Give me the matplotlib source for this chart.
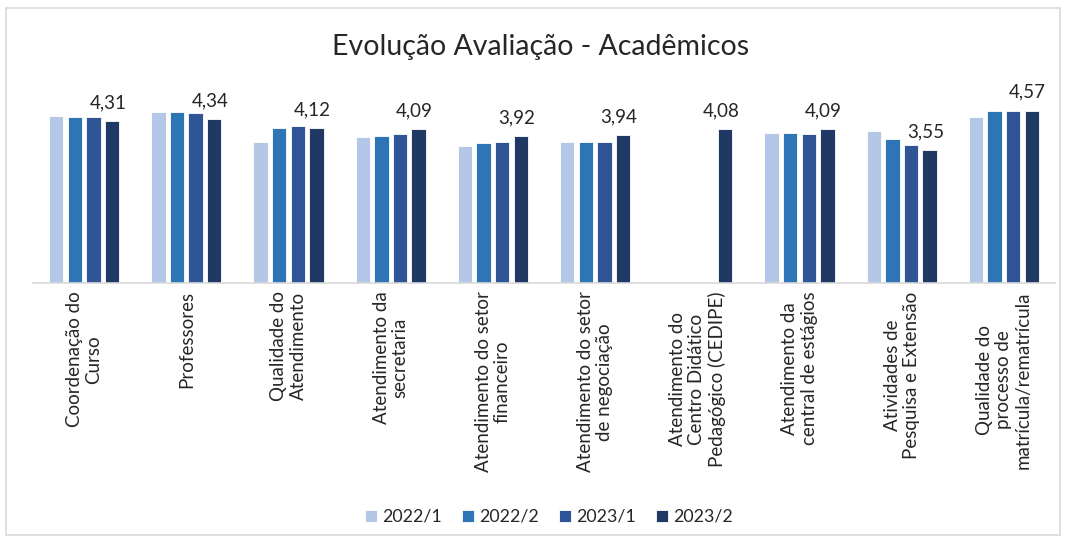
import numpy as np
import matplotlib.pyplot as plt
from matplotlib.patches import Rectangle

categories = [
    "Coordenação do\nCurso",
    "Professores",
    "Qualidade do\nAtendimento",
    "Atendimento da\nsecretaria",
    "Atendimento do setor\nfinanceiro",
    "Atendimento do setor\nde negociação",
    "Atendimento do\nCentro Didático\nPedagógico (CEDIPE)",
    "Atendimento da\ncentral de estágios",
    "Atividades de\nPesquisa e Extensão",
    "Qualidade do\nprocesso de\nmatrícula/rematrícula",
]
series_names = ["2022/1", "2022/2", "2023/1", "2023/2"]
s2022_1 = [4.44, 4.54, 3.75, 3.89, 3.66, 3.75, np.nan, 4.00, 4.03, 4.40]
s2022_2 = [4.40, 4.54, 4.12, 3.92, 3.72, 3.75, np.nan, 4.00, 3.83, 4.57]
s2023_1 = [4.40, 4.52, 4.18, 3.96, 3.75, 3.75, np.nan, 3.95, 3.69, 4.57]
s2023_2 = [4.31, 4.34, 4.12, 4.09, 3.92, 3.94, 4.08, 4.09, 3.55, 4.57]
colors = ["#B4C7E7", "#2E75B6", "#2F5597", "#203864"]

plt.rcParams['font.family'] = ['Lato', 'DejaVu Sans']

fig = plt.figure(figsize=(10.68, 5.43), dpi=100)
# chart border
fig.patches.append(Rectangle((6 / 1068, 8 / 543), 1054 / 1068, 527 / 543,
                             transform=fig.transFigure, fill=False,
                             edgecolor="#D9D9D9", linewidth=1.2))

ax = fig.add_axes([33 / 1068, 1 - 283 / 543, 1022 / 1068, 189 / 543])

x = np.arange(len(categories))
step = 0.182
width = 0.14
all_series = [s2022_1, s2022_2, s2023_1, s2023_2]
for i, (vals, name) in enumerate(zip(all_series, series_names)):
    bars = ax.bar(x + (i - 1.5) * step, vals, width, color=colors[i],
                  label=name, edgecolor="white", linewidth=0.6)
    if name == "2023/2":
        for b, v in zip(bars, vals):
            ax.annotate(f"{v:.2f}".replace(".", ","),
                        (b.get_x() + b.get_width() / 2, v),
                        xytext=(-3, 7), textcoords="offset points",
                        ha="center", va="bottom", fontsize=13.5, color="#262626")

ax.set_ylim(0.1, 5.0)
ax.set_xlim(-0.5, len(categories) - 0.5)
ax.set_xticks(x)
ax.set_xticklabels(categories, rotation=90, ha="center", va="top",
                   multialignment="center", fontsize=13.5, color="#262626",
                   linespacing=1.15)
ax.tick_params(axis="x", length=0, pad=6)
ax.set_yticks([])
for side in ["top", "right", "left"]:
    ax.spines[side].set_visible(False)
ax.spines["bottom"].set_color("#D9D9D9")
ax.spines["bottom"].set_linewidth(1.2)

fig.text(0.506, 1 - 47 / 543, "Evolução Avaliação - Acadêmicos",
         ha="center", va="center", fontsize=20.5, color="#262626")

fig.legend(loc="center", bbox_to_anchor=(0.514, 1 - 517 / 543), ncol=4,
           frameon=False, fontsize=12.8, handlelength=0.7, handleheight=0.7,
           handletextpad=0.3, columnspacing=1.1,
           labelcolor="#262626")

fig.savefig("out.png", dpi=100)
